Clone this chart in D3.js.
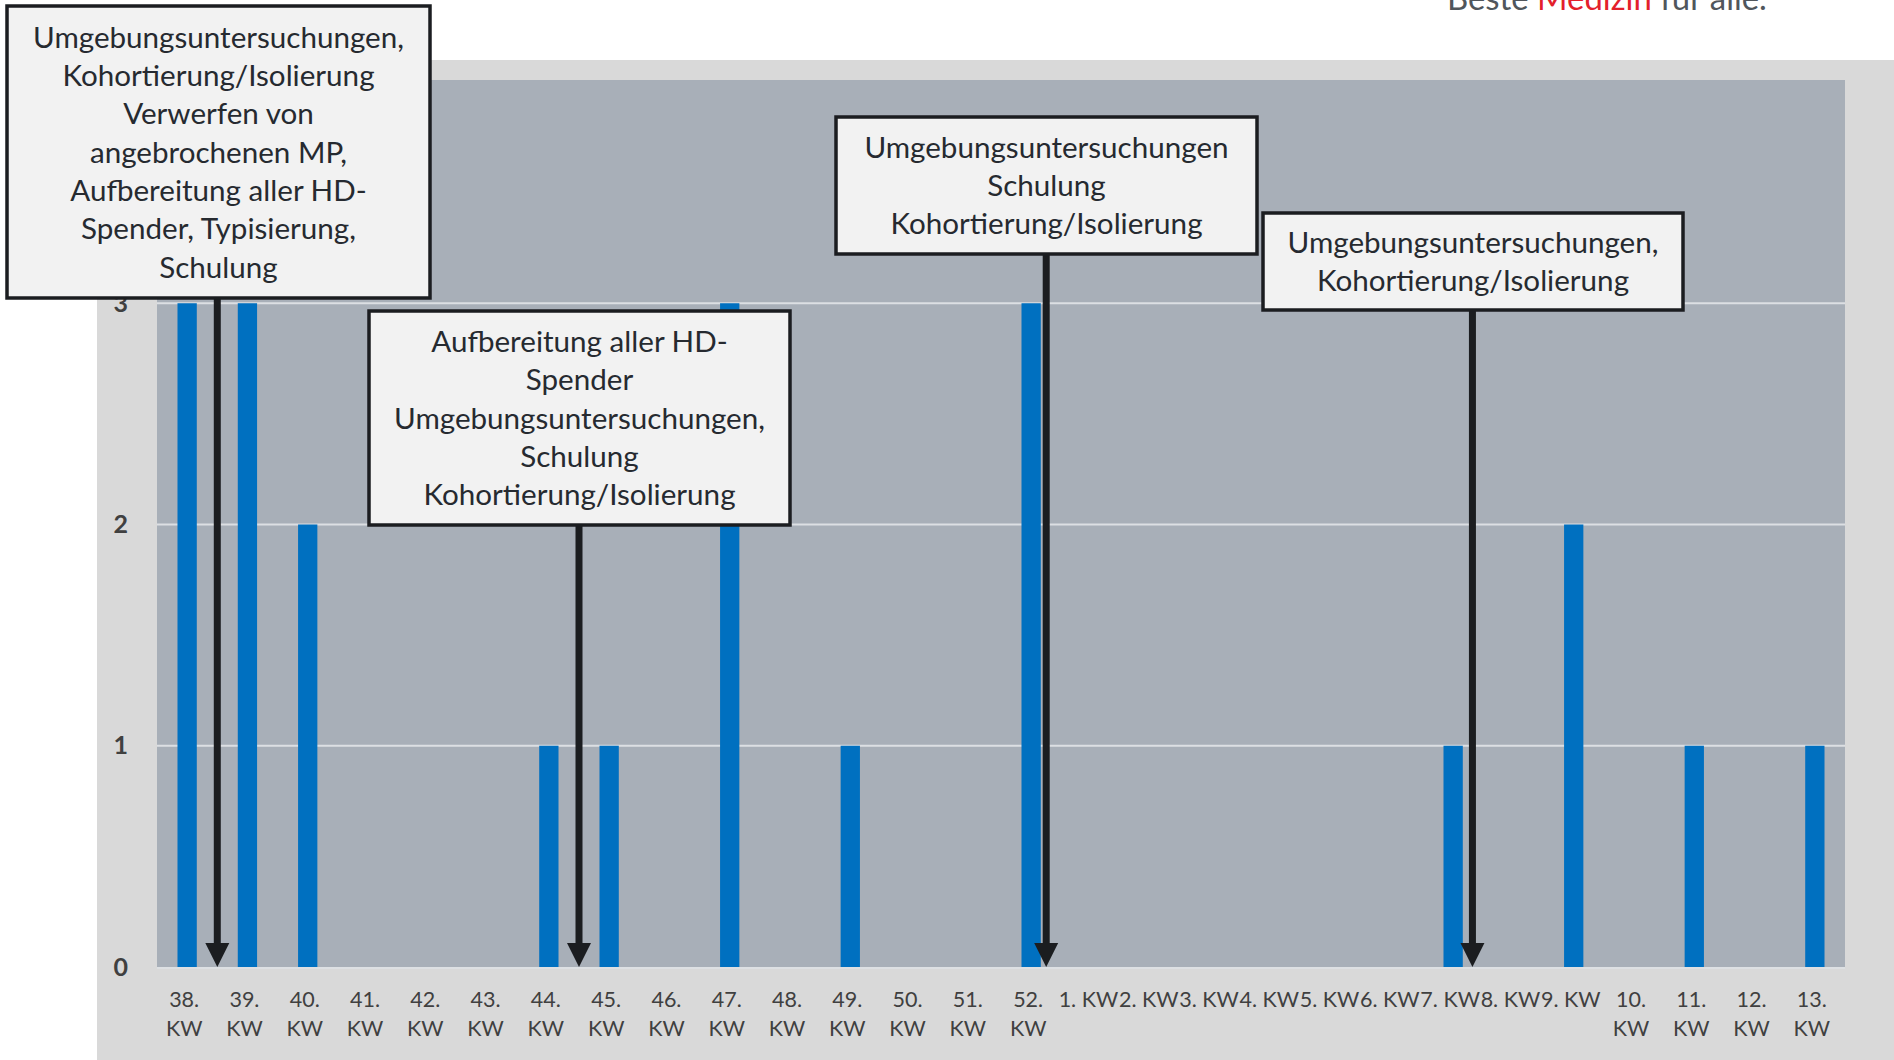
<!DOCTYPE html>
<html><head><meta charset="utf-8">
<script src="https://cdn.jsdelivr.net/npm/d3@7"></script>
<style>html,body{margin:0;padding:0;background:#fff;overflow:hidden}</style>
</head><body>
<svg id="c" width="1894" height="1060"></svg>
<script>
// ---- data ----
const categories = ["38. KW","39. KW","40. KW","41. KW","42. KW","43. KW","44. KW","45. KW","46. KW","47. KW","48. KW","49. KW","50. KW","51. KW","52. KW",
  "1. KW","2. KW","3. KW","4. KW","5. KW","6. KW","7. KW","8. KW","9. KW","10. KW","11. KW","12. KW","13. KW"];
const cases = [3,3,2,0,0,0,1,1,0,3,0,1,0,0,3,0,0,0,0,0,0,1,0,2,0,1,0,1];
const yTicks = [0,1,2,3];
const noteTexts = [
  ["Umgebungsuntersuchungen,","Kohortierung/Isolierung","Verwerfen von","angebrochenen MP,","Aufbereitung aller HD-","Spender, Typisierung,","Schulung"],
  ["Aufbereitung aller HD-","Spender","Umgebungsuntersuchungen,","Schulung","Kohortierung/Isolierung"],
  ["Umgebungsuntersuchungen","Schulung","Kohortierung/Isolierung"],
  ["Umgebungsuntersuchungen,","Kohortierung/Isolierung"]
];
const noteWeeks = ["39. KW","45. KW","52. KW","7. KW"];
const noteWeekFraction = [0, 0, 0.75, 0.82];
const headerParts = [["Beste ","#50565c"],["Medizin","#e3202b"],[" für alle.","#50565c"]];

// ---- layout ----
const W = 1894, H = 1060;
const plot = {x0:157, x1:1845, y0:80, y1:967};
const boxes = [
  {x:7,  y:6,   w:423, h:292},
  {x:369,y:311, w:421, h:214},
  {x:836,y:117, w:421, h:137},
  {x:1263,y:213,w:420, h:97}
];
const FONT = "Lato, 'Open Sans', sans-serif";
const svg = d3.select("#c");

// text measure helper
const measurer = svg.append("text").attr("font-family",FONT).attr("font-size",100).attr("opacity",0);
function widthAt100(t, weight){ measurer.attr("font-weight",weight||"normal").text(t); return measurer.node().getComputedTextLength(); }

// backgrounds
svg.append("rect").attr("x",97).attr("y",60).attr("width",W-97).attr("height",H-60).attr("fill","#d9d9d9");
svg.append("rect").attr("x",plot.x0).attr("y",plot.y0).attr("width",plot.x1-plot.x0).attr("height",plot.y1-plot.y0).attr("fill","#a8afb8");

// header (cut off at top, as in the original slide)
const headerSize = 100*320/widthAt100(headerParts.map(d=>d[0]).join(""));
const ht = svg.append("text").attr("x",1447).attr("y",10).attr("font-family",FONT).attr("font-size",headerSize).attr("xml:space","preserve");
headerParts.forEach(p=>ht.append("tspan").attr("fill",p[1]).text(p[0]));

// scales
const x = d3.scaleBand().domain(categories).range([plot.x0, plot.x1]).paddingInner(0.68).paddingOuter(0.34);
const y = d3.scaleLinear().domain([0,4]).range([plot.y1, 82]);
const stepStart = c => x(c) - x.step()*x.paddingInner()/2;

// gridlines
svg.append("g").selectAll("line").data(yTicks.filter(d=>d>0)).join("line")
  .attr("x1",plot.x0).attr("x2",plot.x1).attr("y1",d=>y(d)).attr("y2",d=>y(d))
  .attr("stroke","#dcdfe3").attr("stroke-width",2);

// bars
svg.append("g").selectAll("rect").data(categories.map((c,i)=>({c,v:cases[i]})).filter(d=>d.v>0)).join("rect")
  .attr("x",d=>x(d.c)).attr("width",x.bandwidth())
  .attr("y",d=>y(d.v)).attr("height",d=>y(0)-y(d.v)).attr("fill","#0070c0");

// baseline
svg.append("line").attr("x1",plot.x0).attr("x2",plot.x1).attr("y1",y(0)+1).attr("y2",y(0)+1)
  .attr("stroke","#dde0e3").attr("stroke-width",2);

// y axis
const ya = svg.append("g").attr("transform",`translate(${plot.x0},0)`)
  .call(d3.axisLeft(y).tickValues(yTicks).tickFormat(d3.format("d")).tickSize(0).tickPadding(29));
ya.select(".domain").remove();
ya.selectAll("text").attr("font-family",FONT).attr("font-size",25).attr("font-weight","bold").attr("fill","#404040");

// x axis with wrapping
const xa = svg.append("g").attr("transform",`translate(-3,${plot.y1})`)
  .call(d3.axisBottom(x).tickSize(0).tickPadding(0));
xa.select(".domain").remove();
xa.selectAll("text").each(function(d){
  const t = d3.select(this);
  t.text(null).attr("font-family",FONT).attr("font-size",21.5).attr("fill","#404040").attr("y",0).attr("dy",null);
  const wpx = widthAt100(d)*21.5/100;
  const lines = wpx > x.step()+2 ? d.split(" ") : [d];
  lines.forEach((ln,i)=>t.append("tspan").attr("x",0).attr("y",40 + i*29).text(ln));
});

// annotation arrows
const arrowColor = "#1b1d20";
noteWeeks.forEach((wk,i)=>{
  const ax = stepStart(wk) + noteWeekFraction[i]*x.step();
  const b = boxes[i];
  const tipY = y(0), headH = 24, headW = 12;
  svg.append("line").attr("x1",ax).attr("x2",ax).attr("y1",b.y+b.h).attr("y2",tipY-headH+2)
    .attr("stroke",arrowColor).attr("stroke-width",7);
  svg.append("path").attr("d",`M${ax-headW},${tipY-headH}L${ax+headW},${tipY-headH}L${ax},${tipY}Z`).attr("fill",arrowColor);
});

// boxes
const boxFont = 100*371/widthAt100("Umgebungsuntersuchungen,");
const lineH = 38.3;
noteTexts.forEach((lines,i)=>{
  const b = boxes[i];
  const g = svg.append("g");
  g.append("rect").attr("x",b.x).attr("y",b.y).attr("width",b.w).attr("height",b.h)
    .attr("fill","#f2f2f2").attr("stroke",arrowColor).attr("stroke-width",3.5);
  const cx = b.x+b.w/2, cy = b.y+b.h/2;
  g.append("g").selectAll("text").data(lines).join("text")
    .attr("x",cx).attr("y",(d,j)=>cy+(j-(lines.length-1)/2)*lineH)
    .attr("dy","0.36em").attr("text-anchor","middle")
    .attr("font-family",FONT).attr("font-size",boxFont).attr("fill","#262a30").text(d=>d);
});
measurer.remove();
</script>
</body></html>
